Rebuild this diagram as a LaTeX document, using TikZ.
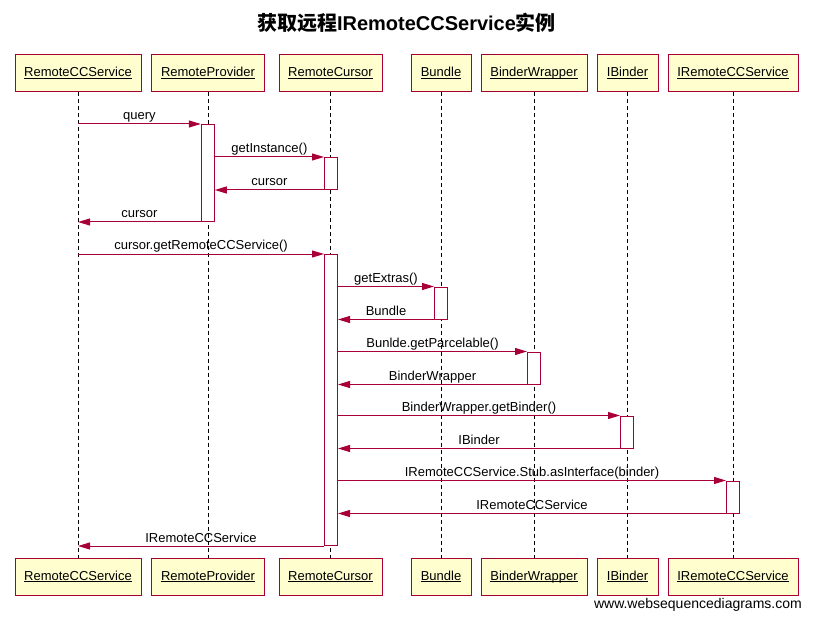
\documentclass[tikz,border=0pt]{standalone}
\usepackage{fontspec}
\setmainfont{Liberation Sans}
\newfontfamily\cjk{Noto Sans CJK SC}
\usetikzlibrary{arrows.meta}
\definecolor{wsdred}{HTML}{A80036}
\definecolor{wsdfill}{HTML}{FEFECE}
\newcommand\ulname[1]{\setbox0\hbox{#1}\leavevmode\rlap{\vrule height -1pt depth 1.9pt width \wd0}\box0}
\tikzset{
 part/.style={draw=wsdred, fill=wsdfill, line width=1pt, minimum height=37pt, inner sep=0pt, text height=10pt, text depth=3pt, font=\fontsize{13}{15}\selectfont},
 life/.style={draw=black, dash pattern=on 4pt off 3pt, line width=0.9pt},
 act/.style={draw=wsdred, fill=white, line width=1pt, minimum width=13pt, inner sep=0pt, anchor=north},
 msg/.style={draw=wsdred, line width=1pt, -{Triangle[length=12pt,width=7pt]}},
 lbl/.style={font=\fontsize{13}{15}\selectfont, anchor=base, inner sep=0pt, yshift=4pt},
}
\begin{document}
\begin{tikzpicture}[x=1pt,y=-1pt]
\useasboundingbox (0,0) rectangle (813,620);
\node (title) at (406.5,23) {\fontsize{20}{24}\selectfont\bfseries{\cjk 获取远程}IRemoteCCService{\cjk 实例}};
% top participants
\node[part, minimum width=126pt] (p1) at (78,73.5) {\ulname{RemoteCCService}};
\node[part, minimum width=113pt] (p2) at (208,73.5) {\ulname{RemoteProvider}};
\node[part, minimum width=103pt] (p3) at (330.5,73.5) {\ulname{RemoteCursor}};
\node[part, minimum width=60pt] (p4) at (441,73.5) {\ulname{Bundle}};
\node[part, minimum width=106pt] (p5) at (534,73.5) {\ulname{BinderWrapper}};
\node[part, minimum width=61pt] (p6) at (627.5,73.5) {\ulname{IBinder}};
\node[part, minimum width=130pt] (p7) at (733,73.5) {\ulname{IRemoteCCService}};
% bottom participants
\node[part, minimum width=126pt] (q1) at (78,576.5) {\ulname{RemoteCCService}};
\node[part, minimum width=113pt] (q2) at (208,576.5) {\ulname{RemoteProvider}};
\node[part, minimum width=103pt] (q3) at (330.5,576.5) {\ulname{RemoteCursor}};
\node[part, minimum width=60pt] (q4) at (441,576.5) {\ulname{Bundle}};
\node[part, minimum width=106pt] (q5) at (534,576.5) {\ulname{BinderWrapper}};
\node[part, minimum width=61pt] (q6) at (627.5,576.5) {\ulname{IBinder}};
\node[part, minimum width=130pt] (q7) at (733,576.5) {\ulname{IRemoteCCService}};
% lifelines
\foreach \i in {1,...,7} \draw[life] (p\i.south) -- (q\i.north);
% activations
\node[act, minimum height=97pt] (a1) at (207.8,124) {};
\node[act, minimum height=32pt] (a2) at (331,157) {};
\node[act, minimum height=291pt] (a3) at (331,254) {};
\node[act, minimum height=32pt] (a4) at (441,286.5) {};
\node[act, minimum height=32pt] (a5) at (534,351.5) {};
\node[act, minimum height=32pt] (a6) at (627,415.5) {};
\node[act, minimum height=32pt] (a7) at (733,480.5) {};
% messages
\draw[msg] (p1.south |- a1.north) -- node[lbl]{query} (a1.north west);
\draw[msg] (a1.east |- a2.north) -- node[lbl]{getInstance()} (a2.north west);
\draw[msg] (a2.south west) -- node[lbl]{cursor} (a1.east |- a2.south);
\draw[msg] (a1.south west) -- node[lbl]{cursor} (p1.south |- a1.south);
\draw[msg] (p1.south |- a3.north) -- node[lbl]{cursor.getRemoteCCService()} (a3.north west);
\draw[msg] (a3.east |- a4.north) -- node[lbl]{getExtras()} (a4.north west);
\draw[msg] (a4.south west) -- node[lbl]{Bundle} (a3.east |- a4.south);
\draw[msg] (a3.east |- a5.north) -- node[lbl]{Bunlde.getParcelable()} (a5.north west);
\draw[msg] (a5.south west) -- node[lbl]{BinderWrapper} (a3.east |- a5.south);
\draw[msg] (a3.east |- a6.north) -- node[lbl]{BinderWrapper.getBinder()} (a6.north west);
\draw[msg] (a6.south west) -- node[lbl]{IBinder} (a3.east |- a6.south);
\draw[msg] (a3.east |- a7.north) -- node[lbl]{IRemoteCCService.Stub.asInterface(binder)} (a7.north west);
\draw[msg] (a7.south west) -- node[lbl]{IRemoteCCService} (a3.east |- a7.south);
\draw[msg] (a3.south west) -- node[lbl]{IRemoteCCService} (p1.south |- a3.south);
% footer
\node[anchor=base east, inner sep=0pt, font=\fontsize{14}{16}\selectfont] (foot) at (802,608) {www.websequencediagrams.com};
\end{tikzpicture}
\end{document}
